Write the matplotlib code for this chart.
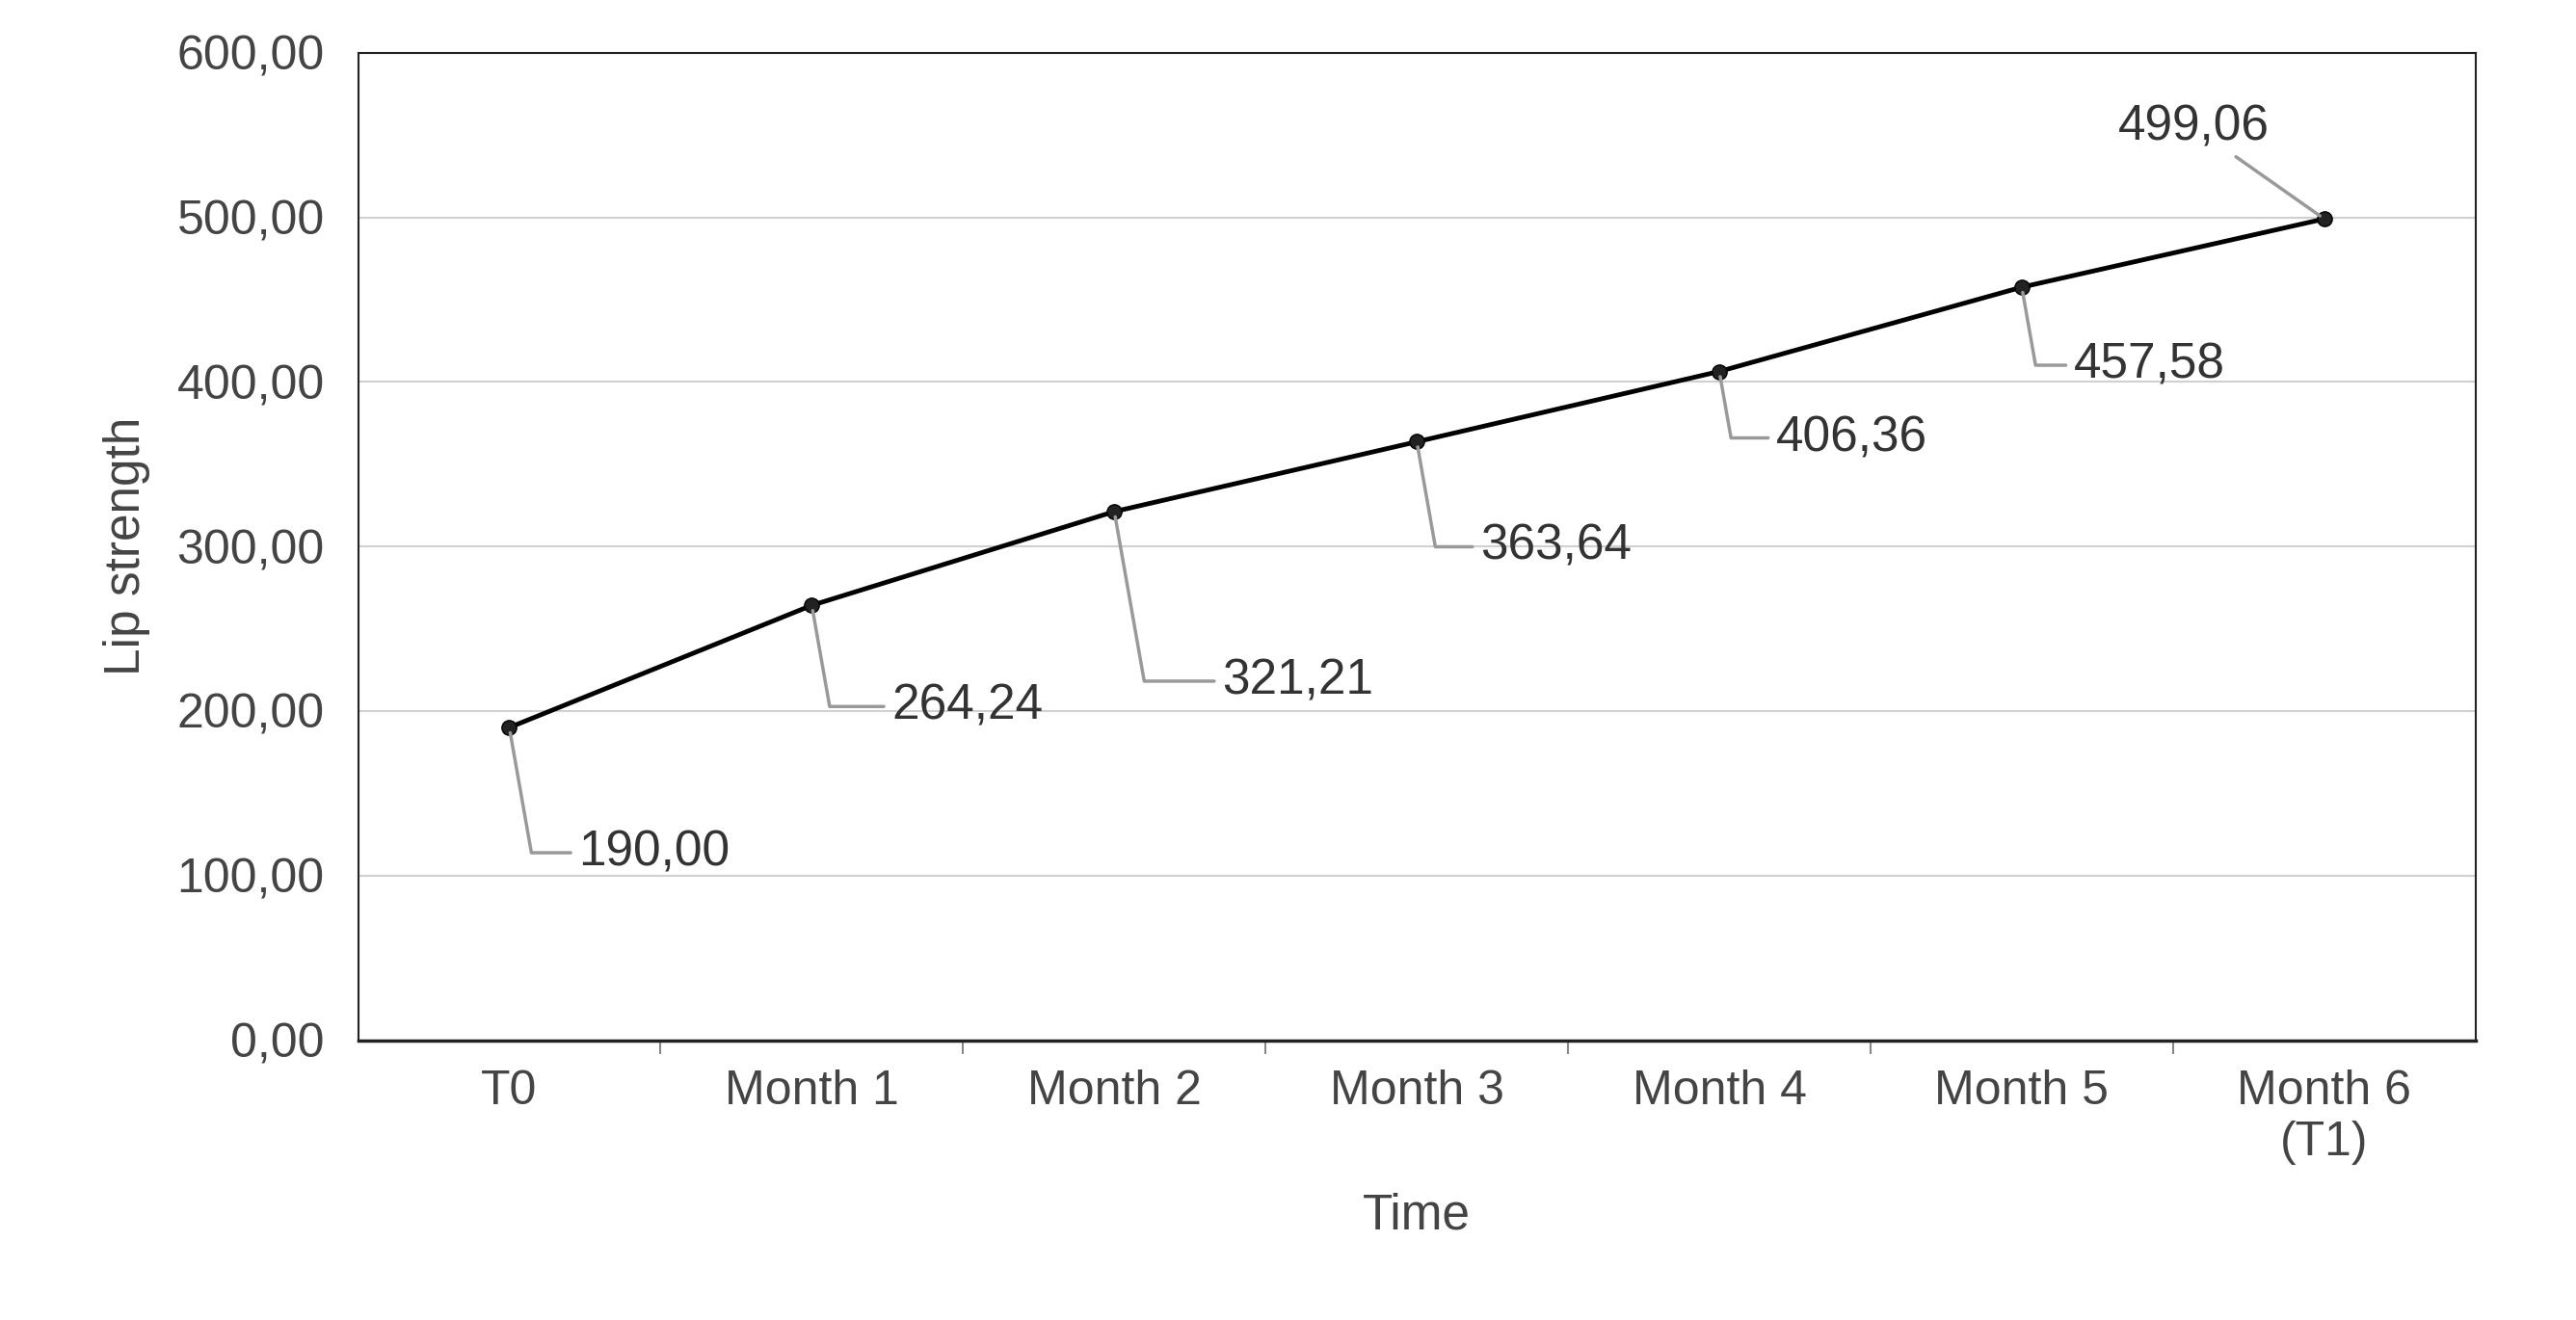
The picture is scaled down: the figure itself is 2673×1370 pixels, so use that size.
import matplotlib.pyplot as plt

categories = ['T0', 'Month 1', 'Month 2', 'Month 3', 'Month 4', 'Month 5', 'Month 6\n(T1)']
values = [190.00, 264.24, 321.21, 363.64, 406.36, 457.58, 499.06]
# label offsets in pixels (x right, y down) from each point
offsets = [(72, 130), (83, 105), (112, 176), (66, 109), (59, 69), (54, 81), (-135, -95)]

plt.rcParams['font.family'] = ['Liberation Sans', 'DejaVu Sans']
fig = plt.figure(figsize=(26.73, 13.70), dpi=100)
ax = fig.add_axes([0.139, 0.212, 0.822, 0.748])

x = range(len(values))
ax.plot(x, values, color='black', lw=3.5, marker='o', ms=11, mfc='#222', mec='black', zorder=3)

for i, v in enumerate(values):
    dx, dy = offsets[i]
    ha = 'center' if dx < 0 else 'left'
    ax.annotate(f'{v:.2f}'.replace('.', ','), xy=(i, v), xytext=(dx, -dy),
                textcoords='offset pixels', ha=ha, va='center', fontsize=37, color='#333',
                arrowprops=dict(arrowstyle='-', color='#999', lw=2.5, shrinkA=4, shrinkB=4,
                                connectionstyle='angle,angleA=0,angleB=100' if dx > 0 else 'arc3'))

ax.set_xlim(-0.5, 6.5)
ax.set_ylim(0, 600)
ax.set_yticks(range(0, 601, 100))
ax.set_yticklabels([f'{t},00' for t in range(0, 601, 100)])
ax.yaxis.grid(True, color='#d0d0d0', lw=1.5)
ax.set_axisbelow(True)
ax.tick_params(axis='y', length=0, labelsize=36, labelcolor='#444', pad=25)

ax.set_xticks(list(x))
ax.set_xticklabels(categories)
ax.tick_params(axis='x', length=0, labelsize=36, labelcolor='#444', pad=22)
ax.set_xticks([i + 0.5 for i in range(6)], minor=True)
ax.tick_params(axis='x', which='minor', length=10, width=1.5, color='#888', direction='out')

for s in ax.spines.values():
    s.set_color('#222')
    s.set_linewidth(1.5)
ax.spines['bottom'].set_linewidth(2.5)

ax.set_xlabel('Time', fontsize=37, color='#444', labelpad=20)
ax.set_ylabel('Lip strength', fontsize=37, color='#444', labelpad=20)

fig.savefig('out.png', dpi=100)
